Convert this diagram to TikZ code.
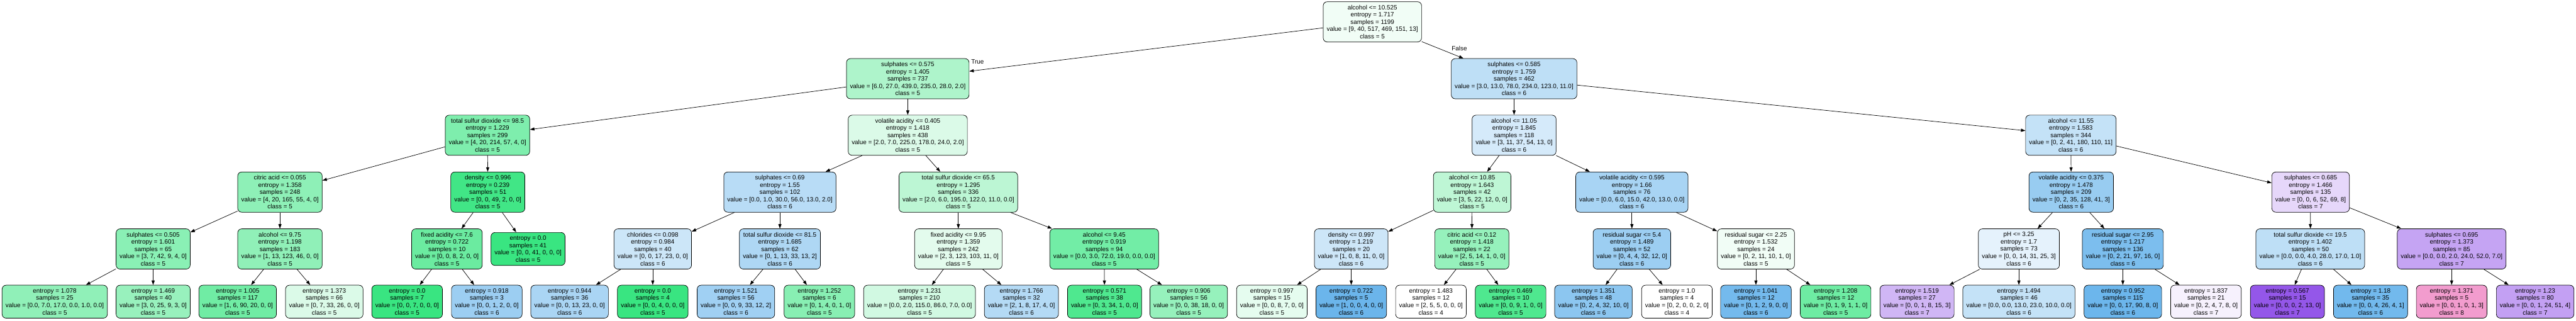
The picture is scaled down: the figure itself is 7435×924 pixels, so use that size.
\documentclass[tikz,border=0pt]{standalone}
\usepackage{fontspec}
\setmainfont{Liberation Sans}
\usetikzlibrary{arrows.meta}
\definecolor{class5}{HTML}{39E581}
\definecolor{class6}{HTML}{399DE5}
\definecolor{class7}{HTML}{8139E5}
\definecolor{class8}{HTML}{E5399E}
\begin{document}
\begin{tikzpicture}[x=0.7782pt,y=-0.7782pt,
  split/.style={draw,line width=1pt,rounded corners=9pt,align=center,inner xsep=7.9pt,inner ysep=0pt,minimum height=90.3pt,font=\fontsize{14pt}{16.3pt}\selectfont},
  leaf/.style={split,minimum height=74pt},
  link/.style={-{Triangle[length=10pt,width=7pt]},line width=1pt},
  lbl/.style={inner sep=0pt,font=\fontsize{14pt}{16.3pt}\selectfont}]
\useasboundingbox[fill=white] (0,0) rectangle (7435,924);

\node[split,fill=class5!7] (r) at (3961,63) {alcohol <= 10.525\\entropy = 1.717\\samples = 1199\\value = [9, 40, 517, 469, 151, 13]\\class = 5};

\node[split,fill=class5!41] (rl) at (2620,227) {sulphates <= 0.575\\entropy = 1.405\\samples = 737\\value = [6.0, 27.0, 439.0, 235.0, 28.0, 2.0]\\class = 5};
\node[split,fill=class6!33] (rr) at (4370,227) {sulphates <= 0.585\\entropy = 1.759\\samples = 462\\value = [3.0, 13.0, 78.0, 234.0, 123.0, 11.0]\\class = 6};

\node[split,fill=class5!65] (rll) at (1407,390) {total sulfur dioxide <= 98.5\\entropy = 1.229\\samples = 299\\value = [4, 20, 214, 57, 4, 0]\\class = 5};
\node[split,fill=class5!18] (rlr) at (2620,390) {volatile acidity <= 0.405\\entropy = 1.418\\samples = 438\\value = [2.0, 7.0, 225.0, 178.0, 24.0, 2.0]\\class = 5};
\node[split,fill=class6!21] (rrl) at (4370,390) {alcohol <= 11.05\\entropy = 1.845\\samples = 118\\value = [3, 11, 37, 54, 13, 0]\\class = 6};
\node[split,fill=class6!30] (rrr) at (5977,390) {alcohol <= 11.55\\entropy = 1.583\\samples = 344\\value = [0, 2, 41, 180, 110, 11]\\class = 6};

\node[split,fill=class5!57] (rlll) at (808,554) {citric acid <= 0.055\\entropy = 1.358\\samples = 248\\value = [4, 20, 165, 55, 4, 0]\\class = 5};
\node[split,fill=class5!96] (rllr) at (1408,554) {density <= 0.996\\entropy = 0.239\\samples = 51\\value = [0, 0, 49, 2, 0, 0]\\class = 5};
\node[split,fill=class6!36] (rlrl) at (2251,554) {sulphates <= 0.69\\entropy = 1.55\\samples = 102\\value = [0.0, 1.0, 30.0, 56.0, 13.0, 2.0]\\class = 6};
\node[split,fill=class5!34] (rlrr) at (2766,554) {total sulfur dioxide <= 65.5\\entropy = 1.295\\samples = 336\\value = [2.0, 6.0, 195.0, 122.0, 11.0, 0.0]\\class = 5};
\node[split,fill=class5!33] (rrll) at (4249,554) {alcohol <= 10.85\\entropy = 1.643\\samples = 42\\value = [3, 5, 22, 12, 0, 0]\\class = 5};
\node[split,fill=class6!44] (rrlr) at (4710,554) {volatile acidity <= 0.595\\entropy = 1.66\\samples = 76\\value = [0.0, 6.0, 15.0, 42.0, 13.0, 0.0]\\class = 6};
\node[split,fill=class6!52] (rrrl) at (5978,554) {volatile acidity <= 0.375\\entropy = 1.478\\samples = 209\\value = [0, 2, 35, 128, 41, 3]\\class = 6};
\node[split,fill=class7!20] (rrrr) at (6669,554) {sulphates <= 0.685\\entropy = 1.466\\samples = 135\\value = [0, 0, 6, 52, 69, 8]\\class = 7};

\node[split,fill=class5!59] (rllll) at (442,718) {sulphates <= 0.505\\entropy = 1.601\\samples = 65\\value = [3, 7, 42, 9, 4, 0]\\class = 5};
\node[split,fill=class5!56] (rlllr) at (808,718) {alcohol <= 9.75\\entropy = 1.198\\samples = 183\\value = [1, 13, 123, 46, 0, 0]\\class = 5};
\node[split,fill=class5!75] (rllrl) at (1290,718) {fixed acidity <= 7.6\\entropy = 0.722\\samples = 10\\value = [0, 0, 8, 2, 0, 0]\\class = 5};
\node[leaf,fill=class5] (rllrr) at (1524,718) {entropy = 0.0\\samples = 41\\value = [0, 0, 41, 0, 0, 0]\\class = 5};
\node[split,fill=class6!26] (rlrll) at (1884,718) {chlorides <= 0.098\\entropy = 0.984\\samples = 40\\value = [0, 0, 17, 23, 0, 0]\\class = 6};
\node[split,fill=class6!41] (rlrlr) at (2251,718) {total sulfur dioxide <= 81.5\\entropy = 1.685\\samples = 62\\value = [0, 1, 13, 33, 13, 2]\\class = 6};
\node[split,fill=class5!14] (rlrrl) at (2766,718) {fixed acidity <= 9.95\\entropy = 1.359\\samples = 242\\value = [2, 3, 123, 103, 11, 0]\\class = 5};
\node[split,fill=class5!71] (rlrrr) at (3187,718) {alcohol <= 9.45\\entropy = 0.919\\samples = 94\\value = [0.0, 3.0, 72.0, 19.0, 0.0, 0.0]\\class = 5};
\node[split,fill=class6!25] (rrlll) at (3900,718) {density <= 0.997\\entropy = 1.219\\samples = 20\\value = [1, 0, 8, 11, 0, 0]\\class = 6};
\node[split,fill=class5!53] (rrllr) at (4248,718) {citric acid <= 0.12\\entropy = 1.418\\samples = 22\\value = [2, 5, 14, 1, 0, 0]\\class = 5};
\node[split,fill=class6!50] (rrlrl) at (4710,718) {residual sugar <= 5.4\\entropy = 1.489\\samples = 52\\value = [0, 4, 4, 32, 12, 0]\\class = 6};
\node[split,fill=class5!7] (rrlrr) at (5068,718) {residual sugar <= 2.25\\entropy = 1.532\\samples = 24\\value = [0, 2, 11, 10, 1, 0]\\class = 5};
\node[split,fill=class6!13] (rrrll) at (5827,718) {pH <= 3.25\\entropy = 1.7\\samples = 73\\value = [0, 0, 14, 31, 25, 3]\\class = 6};
\node[split,fill=class6!66] (rrrlr) at (6127,718) {residual sugar <= 2.95\\entropy = 1.217\\samples = 136\\value = [0, 2, 21, 97, 16, 0]\\class = 6};
\node[split,fill=class6!33] (rrrrl) at (6668,718) {total sulfur dioxide <= 19.5\\entropy = 1.402\\samples = 50\\value = [0.0, 0.0, 4.0, 28.0, 17.0, 1.0]\\class = 6};
\node[split,fill=class7!46] (rrrrr) at (7076,718) {sulphates <= 0.695\\entropy = 1.373\\samples = 85\\value = [0.0, 0.0, 2.0, 24.0, 52.0, 7.0]\\class = 7};

\node[leaf,fill=class5!56] (rlllll) at (158,870) {entropy = 1.078\\samples = 25\\value = [0.0, 7.0, 17.0, 0.0, 1.0, 0.0]\\class = 5};
\node[leaf,fill=class5!52] (rllllr) at (442,870) {entropy = 1.469\\samples = 40\\value = [3, 0, 25, 9, 3, 0]\\class = 5};
\node[leaf,fill=class5!72] (rlllrl) at (686,870) {entropy = 1.005\\samples = 117\\value = [1, 6, 90, 20, 0, 0]\\class = 5};
\node[leaf,fill=class5!18] (rlllrr) at (936,870) {entropy = 1.373\\samples = 66\\value = [0, 7, 33, 26, 0, 0]\\class = 5};
\node[leaf,fill=class5] (rllrll) at (1175,870) {entropy = 0.0\\samples = 7\\value = [0, 0, 7, 0, 0, 0]\\class = 5};
\node[leaf,fill=class6!50] (rllrlr) at (1405,870) {entropy = 0.918\\samples = 3\\value = [0, 0, 1, 2, 0, 0]\\class = 6};
\node[leaf,fill=class6!43] (rlrlll) at (1644,870) {entropy = 0.944\\samples = 36\\value = [0, 0, 13, 23, 0, 0]\\class = 6};
\node[leaf,fill=class5] (rlrllr) at (1884,870) {entropy = 0.0\\samples = 4\\value = [0, 0, 4, 0, 0, 0]\\class = 5};
\node[leaf,fill=class6!48] (rlrlrl) at (2124,870) {entropy = 1.521\\samples = 56\\value = [0, 0, 9, 33, 12, 2]\\class = 6};
\node[leaf,fill=class5!60] (rlrlrr) at (2365,870) {entropy = 1.252\\samples = 6\\value = [0, 1, 4, 0, 1, 0]\\class = 5};
\node[leaf,fill=class5!23] (rlrrll) at (2654,870) {entropy = 1.231\\samples = 210\\value = [0.0, 2.0, 115.0, 86.0, 7.0, 0.0]\\class = 5};
\node[leaf,fill=class6!38] (rlrrlr) at (2948,870) {entropy = 1.766\\samples = 32\\value = [2, 1, 8, 17, 4, 0]\\class = 6};
\node[leaf,fill=class5!89] (rlrrrl) at (3188,870) {entropy = 0.571\\samples = 38\\value = [0, 3, 34, 1, 0, 0]\\class = 5};
\node[leaf,fill=class5!53] (rlrrrr) at (3431,870) {entropy = 0.906\\samples = 56\\value = [0, 0, 38, 18, 0, 0]\\class = 5};
\node[leaf,fill=class5!13] (rrllll) at (3671,870) {entropy = 0.997\\samples = 15\\value = [0, 0, 8, 7, 0, 0]\\class = 5};
\node[leaf,fill=class6!75] (rrlllr) at (3900,870) {entropy = 0.722\\samples = 5\\value = [1, 0, 0, 4, 0, 0]\\class = 6};
\node[leaf,fill=white] (rrllrl) at (4130,870) {entropy = 1.483\\samples = 12\\value = [2, 5, 5, 0, 0, 0]\\class = 4};
\node[leaf,fill=class5!89] (rrllrr) at (4360,870) {entropy = 0.469\\samples = 10\\value = [0, 0, 9, 1, 0, 0]\\class = 5};
\node[leaf,fill=class6!58] (rrlrll) at (4599,870) {entropy = 1.351\\samples = 48\\value = [0, 2, 4, 32, 10, 0]\\class = 6};
\node[leaf,fill=white] (rrlrlr) at (4840,870) {entropy = 1.0\\samples = 4\\value = [0, 2, 0, 0, 2, 0]\\class = 4};
\node[leaf,fill=class6!70] (rrlrrl) at (5068,870) {entropy = 1.041\\samples = 12\\value = [0, 1, 2, 9, 0, 0]\\class = 6};
\node[leaf,fill=class5!73] (rrlrrr) at (5298,870) {entropy = 1.208\\samples = 12\\value = [0, 1, 9, 1, 1, 0]\\class = 5};
\node[leaf,fill=class7!37] (rrrlll) at (5533,870) {entropy = 1.519\\samples = 27\\value = [0, 0, 1, 8, 15, 3]\\class = 7};
\node[leaf,fill=class6!30] (rrrllr) at (5827,870) {entropy = 1.494\\samples = 46\\value = [0.0, 0.0, 13.0, 23.0, 10.0, 0.0]\\class = 6};
\node[leaf,fill=class6!74] (rrrlrl) at (6127,870) {entropy = 0.952\\samples = 115\\value = [0, 0, 17, 90, 8, 0]\\class = 6};
\node[leaf,fill=class7!7] (rrrlrr) at (6367,870) {entropy = 1.837\\samples = 21\\value = [0, 2, 4, 7, 8, 0]\\class = 7};
\node[leaf,fill=class7!85] (rrrrll) at (6602,870) {entropy = 0.567\\samples = 15\\value = [0, 0, 0, 2, 13, 0]\\class = 7};
\node[leaf,fill=class6!71] (rrrrlr) at (6842,870) {entropy = 1.18\\samples = 35\\value = [0, 0, 4, 26, 4, 1]\\class = 6};
\node[leaf,fill=class8!50] (rrrrrl) at (7076,870) {entropy = 1.371\\samples = 5\\value = [0, 0, 1, 0, 1, 3]\\class = 8};
\node[leaf,fill=class7!48] (rrrrrr) at (7317,870) {entropy = 1.23\\samples = 80\\value = [0, 0, 1, 24, 51, 4]\\class = 7};

\node[lbl,anchor=west] (true) at (2803,179) {True};
\node[lbl] (false) at (4212,139) {False};

\draw[link] (r) -- (rl);
\draw[link] (r) -- (rr);
\draw[link] (rl) -- (rll);
\draw[link] (rl) -- (rlr);
\draw[link] (rr) -- (rrl);
\draw[link] (rr) -- (rrr);
\draw[link] (rll) -- (rlll);
\draw[link] (rll) -- (rllr);
\draw[link] (rlr) -- (rlrl);
\draw[link] (rlr) -- (rlrr);
\draw[link] (rrl) -- (rrll);
\draw[link] (rrl) -- (rrlr);
\draw[link] (rrr) -- (rrrl);
\draw[link] (rrr) -- (rrrr);
\draw[link] (rlll) -- (rllll);
\draw[link] (rlll) -- (rlllr);
\draw[link] (rllr) -- (rllrl);
\draw[link] (rllr) -- (rllrr);
\draw[link] (rlrl) -- (rlrll);
\draw[link] (rlrl) -- (rlrlr);
\draw[link] (rlrr) -- (rlrrl);
\draw[link] (rlrr) -- (rlrrr);
\draw[link] (rrll) -- (rrlll);
\draw[link] (rrll) -- (rrllr);
\draw[link] (rrlr) -- (rrlrl);
\draw[link] (rrlr) -- (rrlrr);
\draw[link] (rrrl) -- (rrrll);
\draw[link] (rrrl) -- (rrrlr);
\draw[link] (rrrr) -- (rrrrl);
\draw[link] (rrrr) -- (rrrrr);
\draw[link] (rllll) -- (rlllll);
\draw[link] (rllll) -- (rllllr);
\draw[link] (rlllr) -- (rlllrl);
\draw[link] (rlllr) -- (rlllrr);
\draw[link] (rllrl) -- (rllrll);
\draw[link] (rllrl) -- (rllrlr);
\draw[link] (rlrll) -- (rlrlll);
\draw[link] (rlrll) -- (rlrllr);
\draw[link] (rlrlr) -- (rlrlrl);
\draw[link] (rlrlr) -- (rlrlrr);
\draw[link] (rlrrl) -- (rlrrll);
\draw[link] (rlrrl) -- (rlrrlr);
\draw[link] (rlrrr) -- (rlrrrl);
\draw[link] (rlrrr) -- (rlrrrr);
\draw[link] (rrlll) -- (rrllll);
\draw[link] (rrlll) -- (rrlllr);
\draw[link] (rrllr) -- (rrllrl);
\draw[link] (rrllr) -- (rrllrr);
\draw[link] (rrlrl) -- (rrlrll);
\draw[link] (rrlrl) -- (rrlrlr);
\draw[link] (rrlrr) -- (rrlrrl);
\draw[link] (rrlrr) -- (rrlrrr);
\draw[link] (rrrll) -- (rrrlll);
\draw[link] (rrrll) -- (rrrllr);
\draw[link] (rrrlr) -- (rrrlrl);
\draw[link] (rrrlr) -- (rrrlrr);
\draw[link] (rrrrl) -- (rrrrll);
\draw[link] (rrrrl) -- (rrrrlr);
\draw[link] (rrrrr) -- (rrrrrl);
\draw[link] (rrrrr) -- (rrrrrr);
\end{tikzpicture}
\end{document}
